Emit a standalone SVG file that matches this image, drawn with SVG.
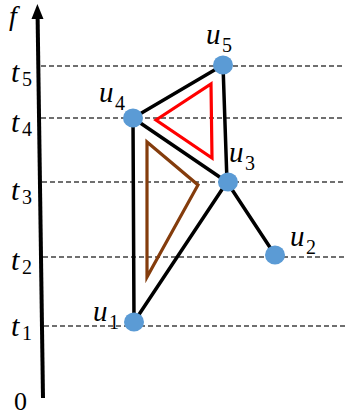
<svg xmlns="http://www.w3.org/2000/svg" width="345" height="419" viewBox="0 0 345 419">
<style>
.lbl{font-family:"Liberation Serif",serif;font-style:italic;font-size:30px;fill:#000}
.ul{font-family:"Liberation Serif",serif;font-style:italic;font-size:29px;fill:#000}
.sub{font-family:"Liberation Serif",serif;font-style:normal;font-size:20px}
.dash{stroke:#404040;stroke-width:1.3;stroke-dasharray:5,3;fill:none}
.edge{stroke:#000;stroke-width:3.5;fill:none;stroke-linecap:round}
.node{fill:#5B9BD5}
</style>
<rect width="345" height="419" fill="#fff"/>
<g id="axis">
<line x1="43" y1="398" x2="37.6" y2="16" stroke="#000" stroke-width="4"/>
<path d="M31.5,19 L37.4,4 L43.5,19 z" fill="#000"/>
<text class="lbl" x="9" y="25" style="font-size:28px">f</text>
<text class="lbl" x="14" y="410" style="font-style:normal;font-size:26px">0</text>
</g>
<g id="levels">
<line class="dash" x1="41" y1="66" x2="345" y2="66"/>
<line class="dash" x1="41" y1="118" x2="345" y2="118"/>
<line class="dash" x1="42" y1="182" x2="345" y2="182"/>
<line class="dash" x1="43" y1="257" x2="345" y2="257"/>
<line class="dash" x1="44" y1="326" x2="345" y2="326"/>
<text class="lbl" x="11" y="82">t<tspan class="sub" x="22" y="86">5</tspan></text>
<text class="lbl" x="11" y="132">t<tspan class="sub" x="22" y="136">4</tspan></text>
<text class="lbl" x="11" y="200">t<tspan class="sub" x="22" y="204">3</tspan></text>
<text class="lbl" x="11" y="270">t<tspan class="sub" x="22" y="274">2</tspan></text>
<text class="lbl" x="11" y="336">t<tspan class="sub" x="22" y="340">1</tspan></text>
</g>
<g id="triangles">
<polygon points="156,120 211,84 212,158" fill="none" stroke="#FF0000" stroke-width="3.2"/>
<polygon points="147,142 198,185 147,277" fill="none" stroke="#843C0C" stroke-width="3.2"/>
</g>
<g id="connectors">
<line class="edge" x1="133" y1="118" x2="223" y2="65"/>
<line class="edge" x1="133" y1="118" x2="227" y2="182"/>
<line class="edge" x1="223" y1="65" x2="227" y2="182"/>
<line class="edge" x1="133" y1="118" x2="134" y2="322"/>
<line class="edge" x1="134" y1="322" x2="227" y2="182"/>
<line class="edge" x1="227" y1="182" x2="275" y2="255"/>
</g>
<g id="u5"><ellipse class="node" cx="223" cy="65" rx="10" ry="9.5"/><text class="ul" x="206" y="44">u<tspan class="sub" x="222" y="52">5</tspan></text></g>
<g id="u4"><ellipse class="node" cx="133" cy="118" rx="10" ry="9.5"/><text class="ul" x="99" y="102">u<tspan class="sub" x="115" y="110">4</tspan></text></g>
<g id="u3"><ellipse class="node" cx="228" cy="182" rx="10" ry="9.5"/><text class="ul" x="229" y="162">u<tspan class="sub" x="245" y="170">3</tspan></text></g>
<g id="u2"><ellipse class="node" cx="275" cy="255" rx="10" ry="9.5"/><text class="ul" x="290" y="246">u<tspan class="sub" x="306" y="254">2</tspan></text></g>
<g id="u1"><ellipse class="node" cx="134" cy="322" rx="10" ry="9.5"/><text class="ul" x="93" y="321">u<tspan class="sub" x="109" y="329">1</tspan></text></g>
</svg>
